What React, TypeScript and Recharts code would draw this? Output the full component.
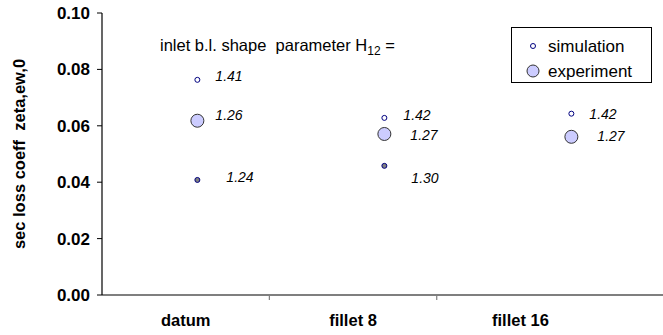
import React from 'react';
import { ScatterChart, Scatter, XAxis, YAxis, Legend, Customized } from 'recharts';

const categories = ['datum', 'fillet 8', 'fillet 16'];
const caseX = [1, 2, 3];
const simulationValues = [0.0763, 0.0628, 0.0643];
const simulationH12 = ['1.41', '1.42', '1.42'];
const experimentValues = [0.0618, 0.0571, 0.0561];
const experimentH12 = ['1.26', '1.27', '1.27'];
const otherValues = [0.0408, 0.0458];
const otherH12 = ['1.24', '1.30'];
const yTicks = [0, 0.02, 0.04, 0.06, 0.08, 0.1];
const yTitle = 'sec loss coeff  zeta,ew,0';

const FONT = '"Liberation Sans", Arial, sans-serif';

// label offsets (px) relative to each marker
const simOffsets = [[18, -4], [19, -3], [18, 0]];
const expOffsets = [[18, -6], [26, 1], [26, -1]];
const otherOffsets = [[29, -3], [27, 12]];

const simData = simulationValues.map((v, i) => ({ x: caseX[i], y: v, label: simulationH12[i], i }));
const expData = experimentValues.map((v, i) => ({ x: caseX[i], y: v, label: experimentH12[i], i }));
const otherData = otherValues.map((v, i) => ({ x: caseX[i], y: v, label: otherH12[i], i }));

const X_MIN = 0.49;
const X_MAX = 3.49;
const BAND = 0.895;
const catCenters = categories.map((_, i) => X_MIN + (i + 0.5) * BAND);
const catBounds = [X_MIN + BAND, X_MIN + 2 * BAND];
const xTicks = [...catCenters, ...catBounds].sort((a, b) => a - b);

function makeShape(r: number, fill: string, stroke: string, offsets: number[][]) {
  return (props: any) => {
    const { cx, cy, payload } = props;
    const off = offsets[payload.i] || [18, 0];
    return (
      <g>
        <circle cx={cx} cy={cy} r={r} fill={fill} stroke={stroke} strokeWidth={1} />
        <text
          x={cx + off[0]}
          y={cy + off[1]}
          dominantBaseline="central"
          fontStyle="italic"
          fontSize={14}
          fontFamily={FONT}
          fill="#000"
        >
          {payload.label}
        </text>
      </g>
    );
  };
}

const XTick = (props: any) => {
  const { x, y, payload } = props;
  const v = payload.value;
  const ci = catCenters.findIndex((c) => Math.abs(c - v) < 1e-6);
  if (ci >= 0) {
    return (
      <text
        x={x}
        y={y + 25}
        textAnchor="middle"
        dominantBaseline="central"
        fontSize={16.5}
        fontWeight="bold"
        fontFamily={FONT}
        fill="#000"
      >
        {categories[ci]}
      </text>
    );
  }
  return <line x1={x} y1={y} x2={x} y2={y + 5} stroke="#808080" strokeWidth={1.2} />;
};

const YTitle = (props: any) => {
  const vb = props.viewBox || { x: 0, y: 13, width: 102, height: 282 };
  const cx = 19;
  const cy = vb.y + vb.height / 2;
  return (
    <text
      x={cx}
      y={cy}
      transform={`rotate(-90, ${cx}, ${cy})`}
      textAnchor="middle"
      dominantBaseline="central"
      fontSize={16.5}
      fontWeight="bold"
      fontFamily={FONT}
      fill="#000"
      style={{ whiteSpace: 'pre' }}
    >
      {yTitle}
    </text>
  );
};

const LegendBox = () => (
  <div
    style={{
      width: 139,
      height: 54,
      border: '1px solid #000',
      background: '#fff',
      boxSizing: 'content-box',
    }}
  >
    <svg width={139} height={54} style={{ display: 'block' }}>
      <circle cx={21} cy={18} r={2.5} fill="#fff" stroke="#000080" strokeWidth={1} />
      <text x={36} y={18} dominantBaseline="central" fontSize={17} fontFamily={FONT}>simulation</text>
      <circle cx={21} cy={43} r={6} fill="#ccccff" stroke="#333" strokeWidth={1} />
      <text x={36} y={43} dominantBaseline="central" fontSize={17} fontFamily={FONT}>experiment</text>
    </svg>
  </div>
);

const Annotation = () => (
  <text x={160} y={51} fontSize={16.5} fontFamily={FONT} fill="#000">
    inlet b.l. shape{'\u00a0\u00a0'}parameter H
    <tspan fontSize={12} dy={4}>12</tspan>
    <tspan dy={-4}> =</tspan>
  </text>
);

export default function App() {
  return (
    <div style={{ position: 'absolute', left: 0, top: 0, background: '#fff' }}>
      <ScatterChart width={663} height={335} margin={{ top: 13, right: 0, bottom: 0, left: 0 }}>
        <XAxis
          dataKey="x"
          type="number"
          domain={[X_MIN, X_MAX]}
          ticks={xTicks}
          interval={0}
          tick={<XTick />}
          tickSize={0}
          tickMargin={0}
          tickLine={false}
          height={40}
          axisLine={{ stroke: '#000', strokeWidth: 1.2 }}
          allowDataOverflow
        />
        <YAxis
          dataKey="y"
          type="number"
          domain={[0, 0.1]}
          ticks={yTicks}
          tickFormatter={(v: number) => v.toFixed(2)}
          width={102}
          tickSize={5}
          tickMargin={7}
          axisLine={{ stroke: '#000', strokeWidth: 1.2 }}
          tickLine={{ stroke: '#000', strokeWidth: 1 }}
          tick={{ fill: '#000', fontSize: 17, fontWeight: 'bold', fontFamily: FONT }}
          label={{ content: YTitle }}
        />
        <Scatter
          name="other"
          data={otherData}
          isAnimationActive={false}
          shape={makeShape(2.5, '#808080', '#000080', otherOffsets)}
        />
        <Scatter
          name="experiment"
          data={expData}
          isAnimationActive={false}
          shape={makeShape(6.5, '#ccccff', '#333', expOffsets)}
        />
        <Scatter
          name="simulation"
          data={simData}
          isAnimationActive={false}
          shape={makeShape(2.5, '#fff', '#000080', simOffsets)}
        />
        <Customized component={Annotation} />
        <Legend
          layout="horizontal"
          verticalAlign="middle"
          align="center"
          content={() => <LegendBox />}
          wrapperStyle={{ position: 'absolute', left: 511, top: 27, width: 141, height: 56 }}
        />
      </ScatterChart>
    </div>
  );
}
